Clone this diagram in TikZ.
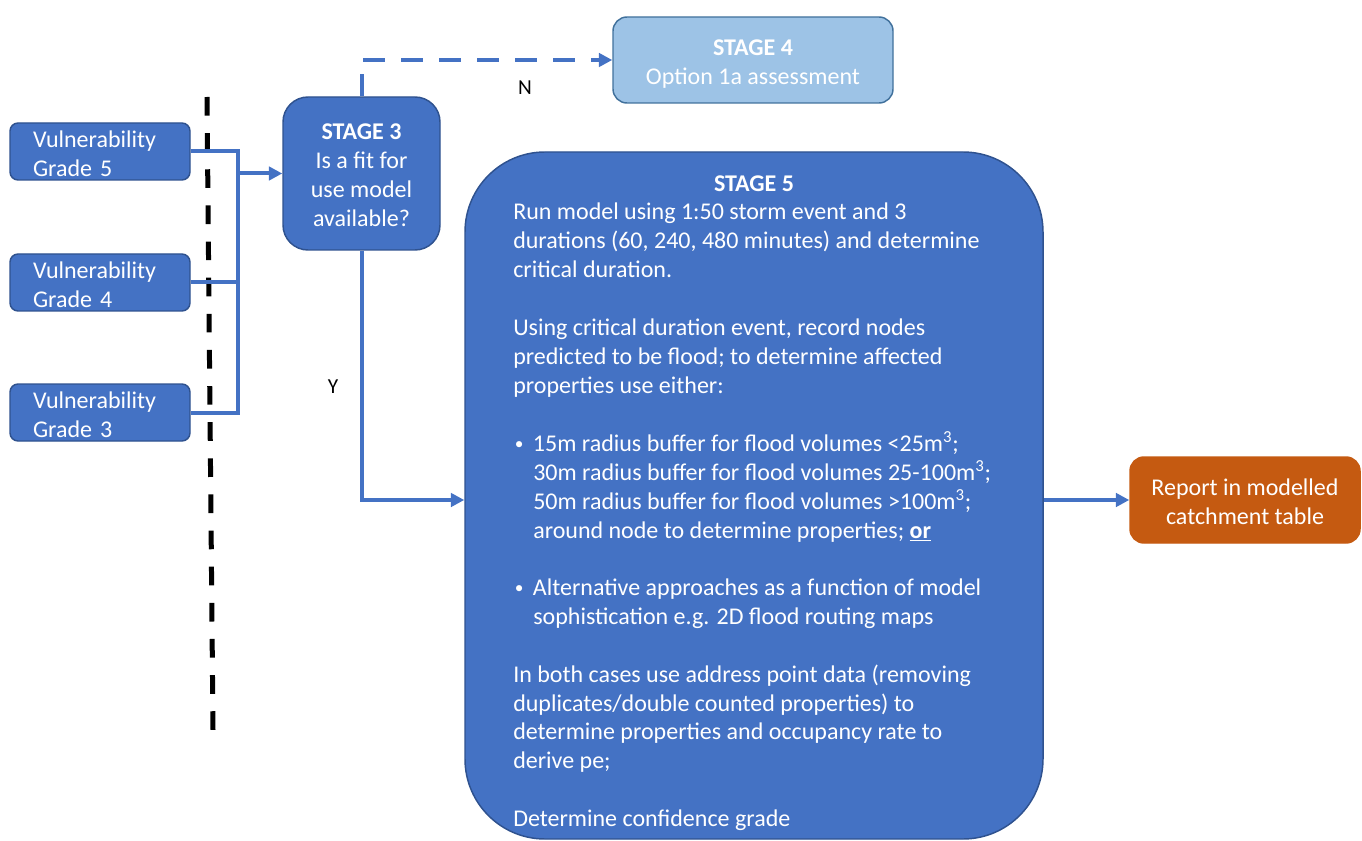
\documentclass[tikz,border=0pt]{standalone}
\usepackage{fontspec}
\setmainfont{Carlito}
\usetikzlibrary{arrows.meta}
\definecolor{blu}{HTML}{4472C4}
\definecolor{bluedge}{HTML}{2F528F}
\definecolor{lightblu}{HTML}{9DC3E6}
\definecolor{lightedge}{HTML}{41719C}
\definecolor{orng}{HTML}{C55A11}
\newcommand{\smbul}{\makebox[14pt][l]{\hspace{0.5pt}\raisebox{1.2pt}{\fontsize{13pt}{13pt}\selectfont •}}}
\begin{document}
\begin{tikzpicture}[x=0.75pt,y=-0.75pt,
  txt/.style={font=\fontsize{18pt}{21.75pt}\selectfont, text=white},
  lbl/.style={font=\fontsize{16pt}{19pt}\selectfont, text=black, inner sep=0pt},
  shape box/.style={line width=1.1pt, inner sep=0pt},
  vbox/.style={shape box, draw=bluedge, fill=blu, rounded corners=6pt,
    minimum width=135pt, minimum height=42.75pt},
  vtext/.style={txt, align=left, text width=100.5pt, inner sep=0pt},
  ctext/.style={txt, align=center, inner sep=0pt},
  conn/.style={draw=blu, line width=3pt},
  tip/.style={-{Triangle[length=10pt,width=10pt]}},
  dsh/.style={dash pattern=on 16.5pt off 12pt},
]
\useasboundingbox (0,0) rectangle (1362,841);

% vulnerability boxes
\node[vbox] (v5) at (100,151.5) {};
\node[vbox] (v4) at (100,282.5) {};
\node[vbox] (v3) at (100,412.5) {};
\node[vtext, yshift=-1.5pt] (v5t) at (v5.center) {Vulnerability\\Grade 5};
\node[vtext, yshift=-1.5pt] (v4t) at (v4.center) {Vulnerability\\Grade 4};
\node[vtext, yshift=-1.5pt] (v3t) at (v3.center) {Vulnerability\\Grade 3};

% stage boxes
\node[shape box, draw=bluedge, fill=blu, rounded corners=18.75pt, minimum width=117.75pt, minimum height=114.75pt]
  (s3) at (361.5,173.5) {};
\node[ctext, yshift=-1.5pt] (s3t) at (s3.center) {\textbf{STAGE 3}\\Is a fit for\\use model\\available?};

\node[shape box, draw=lightedge, fill=lightblu, rounded corners=10.5pt, minimum width=210pt, minimum height=64.5pt]
  (s4) at (753,60) {};
\node[ctext, yshift=-3pt] (s4t) at (s4.center) {\textbf{STAGE 4}\\Option 1a assessment};

\node[shape box, draw=orng, fill=orng, rounded corners=10.5pt, minimum width=172.5pt, minimum height=64.5pt]
  (rep) at (1245,500) {};
\node[ctext, yshift=-1.5pt] (rept) at (rep.center) {Report in modelled\\catchment table};

\node[shape box, draw=bluedge, fill=blu, rounded corners=60pt, minimum width=433.5pt,
  minimum height=515.25pt] (s5) at (754,495.5) {};

% stage 5 text
\node[txt, anchor=base, inner sep=0pt] (s5h) at (754,192) {\textbf{STAGE 5}};
\foreach \yy/\xx/\linetxt [count=\i] in {
  212/513/{Run model using 1:50 storm event and 3},
  241/513/{durations (60, 240, 480 minutes) and determine},
  270/513/{critical duration.},
  327/513/{Using critical duration event, record nodes},
  356/513/{predicted to be flood; to determine affected},
  385/513/{properties use either:},
  443/514/{\smbul 15m radius buffer for flood volumes <25m\textsuperscript{3};},
  472/533/{30m radius buffer for flood volumes 25-100m\textsuperscript{3};},
  501/533/{50m radius buffer for flood volumes >100m\textsuperscript{3};},
  530/533/{around node to determine properties; \underline{\textbf{or}}},
  587/514/{\smbul Alternative approaches as a function of model},
  616/533/{sophistication e.g. 2D flood routing maps},
  674/513/{In both cases use address point data (removing},
  703/513/{duplicates/double counted properties) to},
  731/513/{determine properties and occupancy rate to},
  760/513/{derive pe;},
  818/513/{Determine confidence grade}}
  \node[txt, anchor=base west, inner sep=0pt] (s5t\i) at (\xx,\yy+8) {\linetxt};

% dashed black divider
\coordinate (dtop) at (207,97);
\coordinate (dbot) at (213,730);
\draw[line width=3.75pt, black, dash pattern=on 14pt off 13.1pt] (dtop) -- (dbot);

% connectors
\coordinate (jtop) at (238,151.5);
\coordinate (jbot) at (238,412.5);
\coordinate (jarr) at (238,173.5);
\draw[conn] (v5.east) -- (jtop) -- (jbot) -- (v3.east);
\draw[conn] (v4.east) -- (v4.east -| jbot);
\draw[conn, tip] (jarr) -- (s3.west);

\draw[conn, dsh, tip] (s3.north) |- (s4.west);
\draw[conn, tip] (s3.south) |- (s5.west |- rep.west);
\draw[conn, tip] (s5.east |- rep.west) -- (rep.west);

\node[lbl] (nlab) at (525,88) {N};
\node[lbl] (ylab) at (333,387) {Y};
\end{tikzpicture}
\end{document}
